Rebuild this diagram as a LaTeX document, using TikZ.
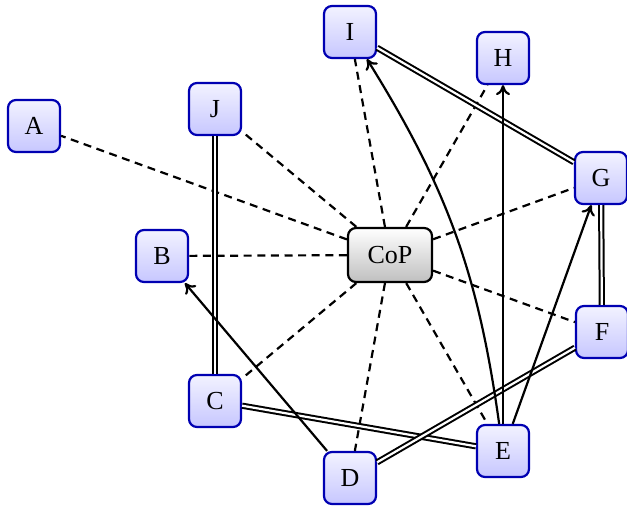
\documentclass[tikz,border=0pt]{standalone}
\usepackage{fontspec}
\setmainfont{Liberation Serif}
\usetikzlibrary{arrows.meta}
\begin{document}
\begin{tikzpicture}[x=0.5pt,y=-0.5pt,
  member/.style={draw=blue!70!black, line width=1.1pt, rounded corners=4pt,
    top color=blue!5, bottom color=blue!22, minimum width=26pt, minimum height=26pt,
    font=\fontsize{13}{15}\selectfont},
  hub/.style={draw=black, line width=1.1pt, rounded corners=4pt,
    top color=white, bottom color=gray!50, minimum width=42pt, minimum height=27pt,
    font=\fontsize{13}{15}\selectfont},
  link/.style={line width=1.1pt, dash pattern=on 4pt off 2.8pt},
  tie/.style={double, line width=1pt, double distance=1.1pt},
  flow/.style={line width=1.1pt, -{To[length=5pt,width=7pt]}}]
\useasboundingbox (0,0) rectangle (627,507);
\node[hub] (cop) at (390,255) {CoP};
\node[member] (A) at (34,126) {A};
\node[member] (B) at (162,256) {B};
\node[member] (C) at (215,401) {C};
\node[member] (D) at (350,478) {D};
\node[member] (E) at (503,451) {E};
\node[member] (F) at (602,332) {F};
\node[member] (G) at (601,178) {G};
\node[member] (H) at (503,58) {H};
\node[member] (I) at (350,32) {I};
\node[member] (J) at (215,109) {J};
% dashed links from the hub
\foreach \n in {A,B,C,D,E,F,G,H,I,J}
  \draw[link] (cop) -- (\n);
% double ties
\draw[tie] (J) -- (C);
\draw[tie] (I) -- (G);
\draw[tie] (G) -- (F);
\draw[tie] (C) -- (E);
\draw[tie] (D) -- (F);
% directed flows
\draw[flow] (D) -- (B);
\draw[flow] (E) -- (H);
\draw[flow] (E) -- (G);
\draw[flow] (E) to[bend right=12] (I);
\end{tikzpicture}
\end{document}
